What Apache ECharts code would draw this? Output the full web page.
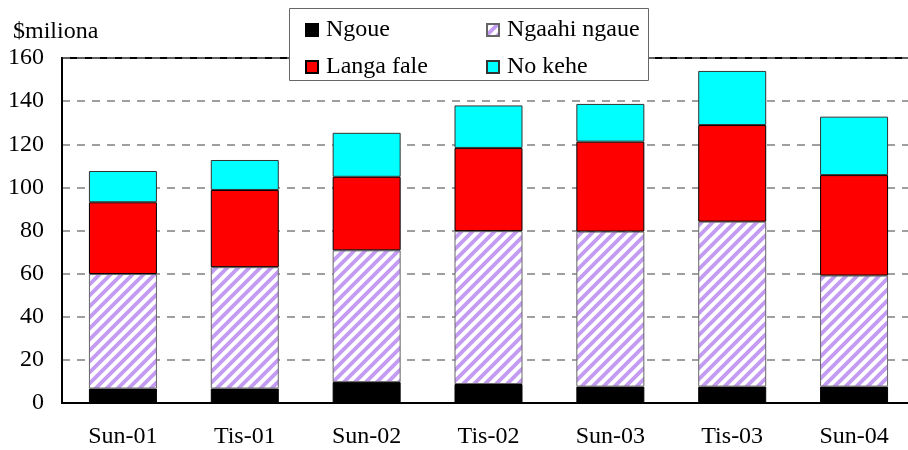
<!DOCTYPE html>
<html>
<head>
<meta charset="utf-8">
<script src="https://cdn.jsdelivr.net/npm/echarts@6/dist/echarts.min.js"></script>
<style>
html,body{margin:0;padding:0;background:#fff;overflow:hidden;width:908px;height:450px;}
#c{width:915px;height:450px;}
</style>
</head>
<body>
<div id="c"></div>
<script>
var categories = ['Sun-01','Tis-01','Sun-02','Tis-02','Sun-03','Tis-03','Sun-04'];
var ngoue      = [6.7, 6.7, 9.7, 8.8, 7.6, 7.6, 7.6];
var ngaahiNgaue= [53.1, 56.3, 61.1, 70.9, 71.9, 76.5, 51.5];
var langaFale  = [33.3, 35.8, 34.1, 38.6, 41.7, 44.8, 46.6];
var noKehe     = [14.5, 13.9, 20.4, 19.7, 17.5, 25.1, 27.1];
var yTicks = [0,20,40,60,80,100,120,140,160];

var FONT = '"Liberation Serif", "DejaVu Serif", serif';

function makeHatch(){
  var s = 11;
  var cv = document.createElement('canvas');
  cv.width = s; cv.height = s;
  var ctx = cv.getContext('2d');
  ctx.fillStyle = '#ffffff';
  ctx.fillRect(0,0,s,s);
  ctx.strokeStyle = '#c49bf3';
  ctx.lineWidth = 3.8;
  ctx.beginPath();
  ctx.moveTo(-s,s*2); ctx.lineTo(s*2,-s);
  ctx.moveTo(-s,s); ctx.lineTo(s,-s);
  ctx.moveTo(0,s*2); ctx.lineTo(s*2,0);
  ctx.stroke();
  return cv;
}
var hatch = {image: makeHatch(), repeat: 'repeat'};

var chart = echarts.init(document.getElementById('c'), null, {renderer:'canvas'});
var barW = 68;
function bar(name, data, color, border){
  return {
    name: name, type: 'bar', stack: 'total', data: data, barWidth: barW,
    itemStyle: {color: color, borderColor: border, borderWidth: 1},
    emphasis: {disabled: true}
  };
}
var legendText = {fontFamily: FONT, fontSize: 24, color: '#000', lineHeight: 24, padding: [0,0,0,3]};
chart.setOption({
  animation: false,
  backgroundColor: '#fff',
  title: {
    text: '$miliona', left: 8, top: 15,
    textStyle: {fontFamily: FONT, fontSize: 24, fontWeight: 'normal', color: '#000'}
  },
  grid: {
    left: 62, top: 58, right: 0, height: 345,
    show: true, borderColor: '#000', borderWidth: 2, backgroundColor: 'transparent'
  },
  graphic: [{
    type: 'rect', z: 100,
    shape: {x: 289.5, y: 8.5, width: 359, height: 72},
    style: {fill: '#fff', stroke: '#666', lineWidth: 1}
  }],
  legend: [{
    orient: 'vertical', left: 300, top: 13, z: 200, icon: 'rect',
    itemWidth: 12, itemHeight: 12, itemGap: 13,
    data: ['Ngoue','Langa fale'],
    textStyle: legendText
  },{
    orient: 'vertical', left: 481, top: 13, z: 200, icon: 'rect',
    itemWidth: 12, itemHeight: 12, itemGap: 13,
    data: ['Ngaahi ngaue','No kehe'],
    textStyle: legendText
  }],
  xAxis: {
    type: 'category', data: categories,
    axisLine: {lineStyle: {color: '#000', width: 2}},
    axisTick: {show: false},
    axisLabel: {fontFamily: FONT, fontSize: 24, color: '#000', margin: 22}
  },
  yAxis: {
    type: 'value', min: 0, max: 160, interval: 20,
    axisLine: {show: true, lineStyle: {color: '#000', width: 2}},
    axisTick: {show: false},
    axisLabel: {fontFamily: FONT, fontSize: 24, color: '#000', margin: 18,
      formatter: function(v){ return yTicks.indexOf(v) >= 0 ? String(v) : ''; }},
    splitLine: {show: true, lineStyle: {color: '#808080', type: [8,7], width: 1.5}}
  },
  series: [
    bar('Ngoue', ngoue, '#000000', '#000'),
    bar('Ngaahi ngaue', ngaahiNgaue, hatch, '#666'),
    bar('Langa fale', langaFale, '#ff0000', '#000'),
    bar('No kehe', noKehe, '#00ffff', '#333')
  ]
});
</script>
</body>
</html>
